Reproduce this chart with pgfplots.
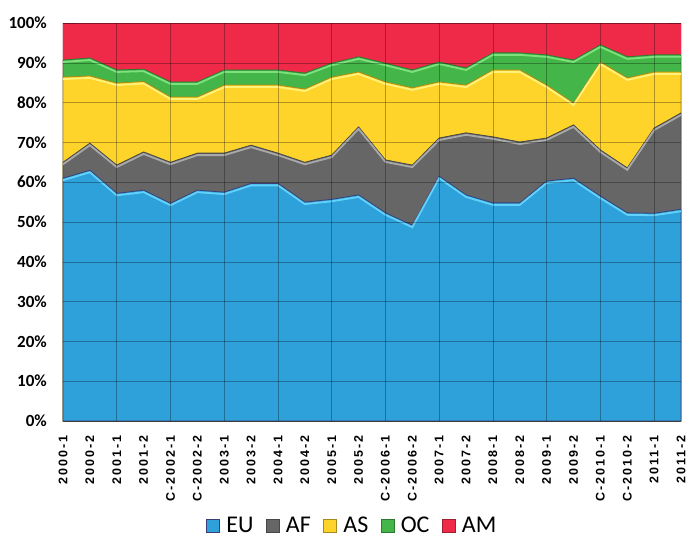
\documentclass[border=0pt]{standalone}
\usepackage{pgfplots}
\pgfplotsset{compat=1.18}
\usepackage{pgfplotstable}
\usepackage{fontspec}
\setmainfont{Carlito}
\newfontfamily\xfont[LetterSpace=16]{Liberation Sans}

\definecolor{eublue}{HTML}{2EA0DA}
\definecolor{eudark}{HTML}{3B3F78}
\definecolor{euhl}{HTML}{62D2FA}
\definecolor{afgray}{HTML}{666666}
\definecolor{afdark}{HTML}{474747}
\definecolor{afhl}{HTML}{A9A9A9}
\definecolor{asyellow}{HTML}{FFD42A}
\definecolor{asdark}{HTML}{A88A18}
\definecolor{ashl}{HTML}{FFF27A}
\definecolor{ocgreen}{HTML}{44B649}
\definecolor{ocdark}{HTML}{2C7A30}
\definecolor{ochl}{HTML}{7DE27D}
\definecolor{amred}{HTML}{EE2A48}
\definecolor{amdark}{HTML}{A01F36}

% cumulative tops (percent) of each band
\pgfplotstableread{
x eu af as oc tot
0 61.0 65.0 86.4 90.7 100
1 63.0 69.8 86.7 91.2 100
2 57.2 64.3 84.9 88.2 100
3 58.0 67.6 85.3 88.4 100
4 54.7 65.0 81.4 85.2 100
5 58.0 67.3 81.4 85.2 100
6 57.5 67.3 84.4 88.2 100
7 59.7 69.3 84.4 88.2 100
8 59.7 67.3 84.4 88.2 100
9 55.0 65.0 83.4 87.4 100
10 55.7 66.8 86.4 89.9 100
11 56.8 73.9 87.7 91.5 100
12 52.3 65.6 85.2 89.9 100
13 49.2 64.3 83.7 88.2 100
14 61.5 71.1 85.2 90.2 100
15 56.8 72.4 84.4 88.7 100
16 54.8 71.4 88.2 92.5 100
17 54.8 70.1 88.2 92.5 100
18 60.3 71.1 84.4 92.0 100
19 61.0 74.4 79.9 90.7 100
20 56.5 68.1 90.2 94.5 100
21 52.3 63.6 86.2 91.5 100
22 52.2 73.6 87.7 92.0 100
23 53.2 77.4 87.7 92.0 100
}\data

\begin{document}
\begin{tikzpicture}
\begin{axis}[
  width=618pt, height=398pt, scale only axis,
  xmin=0, xmax=23, ymin=0, ymax=100,
  enlargelimits=false,
  axis on top,
  axis line style={draw=none},
  major tick length=0pt, minor tick length=0pt,
  xtick={0,...,23},
  xticklabels={2000-1,2000-2,2001-1,2001-2,C-2002-1,C-2002-2,2003-1,2003-2,2004-1,2004-2,2005-1,2005-2,C-2006-1,C-2006-2,2007-1,2007-2,2008-1,2008-2,2009-1,2009-2,C-2010-1,C-2010-2,2011-1,2011-2},
  xticklabel style={rotate=90, anchor=east, inner sep=0pt, font=\xfont\bfseries\fontsize{12.5}{12.5}\selectfont},
  xticklabel shift=14pt,
  minor xtick={2,4,...,22},
  xminorgrids=true,
  ytick={0,10,...,100},
  yticklabels={0\%,10\%,20\%,30\%,40\%,50\%,60\%,70\%,80\%,90\%,100\%},
  yticklabel style={inner sep=0pt, font=\bfseries\fontsize{17}{17}\selectfont},
  yticklabel shift=16pt,
  ymajorgrids=true,
  grid style={black, opacity=0.3, line width=0.6pt},
  minor grid style={black, opacity=0.3, line width=0.6pt},
  legend columns=-1,
  legend style={draw=none, fill=none, at={(0.467,-0.262)}, anchor=center,
    font=\fontsize{24}{24}\selectfont,
    /tikz/every odd column/.append style={column sep=6pt},
    /tikz/every even column/.append style={column sep=12pt},
    nodes={inner sep=0.5pt}},
  legend image code/.code={\fill[#1] (0pt,-6.5pt) rectangle (13pt,6.5pt);
     \draw[#1, draw opacity=1, line width=0.5pt] (0pt,-6.5pt) rectangle (13pt,6.5pt);},
]
\addlegendimage{fill=eublue, draw=eudark}\addlegendentry{EU}
\addlegendimage{fill=afgray, draw=afdark}\addlegendentry{AF}
\addlegendimage{fill=asyellow, draw=asdark}\addlegendentry{AS}
\addlegendimage{fill=ocgreen, draw=ocdark}\addlegendentry{OC}
\addlegendimage{fill=amred, draw=amdark}\addlegendentry{AM}

\addplot[forget plot, fill=amred, draw=amdark, line width=1pt] table[x=x, y=tot] {\data} \closedcycle;
\addplot[forget plot, fill=ocgreen, draw=ocdark, line width=0.8pt] table[x=x, y=oc] {\data} \closedcycle;
\addplot[forget plot, draw=ochl, line width=1.8pt, yshift=-2pt] table[x=x, y=oc] {\data};
\addplot[forget plot, fill=asyellow, draw=asdark, line width=0.8pt] table[x=x, y=as] {\data} \closedcycle;
\addplot[forget plot, draw=ashl, line width=1.8pt, yshift=-2pt] table[x=x, y=as] {\data};
\addplot[forget plot, fill=afgray, draw=afdark, line width=0.8pt] table[x=x, y=af] {\data} \closedcycle;
\addplot[forget plot, draw=afhl, line width=1.8pt, yshift=-2pt] table[x=x, y=af] {\data};
\addplot[forget plot, fill=eublue, draw=eudark, line width=0.8pt] table[x=x, y=eu] {\data} \closedcycle;
\addplot[forget plot, draw=euhl, line width=1.8pt, yshift=-2pt] table[x=x, y=eu] {\data};

\coordinate (BL) at (rel axis cs:0,0);
\coordinate (TR) at (rel axis cs:1,1);
\end{axis}
\path[draw=none] ([xshift=-63pt,yshift=-118pt]BL) rectangle ([xshift=7pt,yshift=23pt]TR);
\end{tikzpicture}
\end{document}
